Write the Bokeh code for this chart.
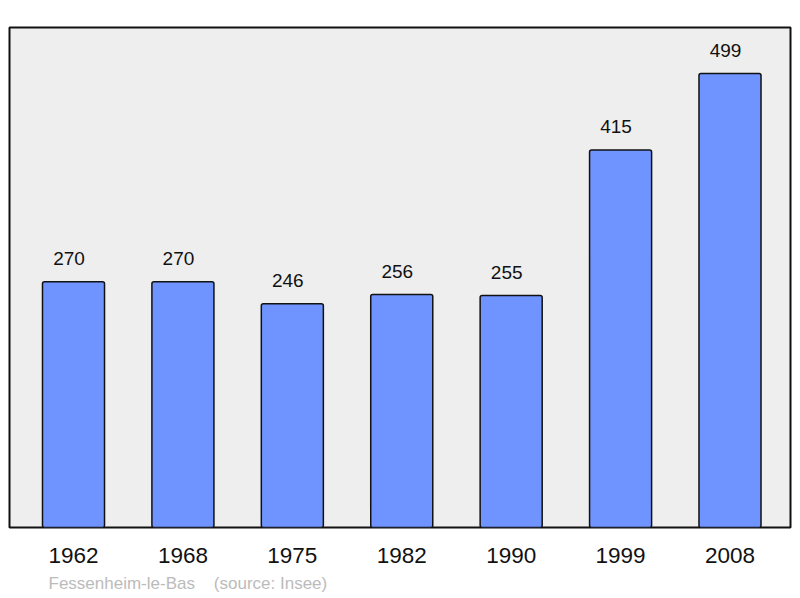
from bokeh.plotting import figure
from bokeh.models import Range1d, LinearAxis, FixedTicker, Title, ColumnDataSource
from bokeh.core.properties import value
from bokeh.embed import file_html
from bokeh.resources import INLINE

years = ["1962", "1968", "1975", "1982", "1990", "1999", "2008"]
population = [270, 270, 246, 256, 255, 415, 499]
footer = "Fessenheim-le-Bas\u00a0\u00a0\u00a0\u00a0(source: Insee)"

pos = list(range(len(years)))
src = ColumnDataSource(dict(x=pos, y=population, lab=[str(v) for v in population]))

p = figure(width=800, height=598, output_backend="svg", toolbar_location=None,
           x_range=Range1d(-0.585, 6.553), y_range=Range1d(0, 549.5),
           x_axis_location=None, y_axis_location=None,
           min_border_left=9, min_border_right=10, min_border_top=27, min_border_bottom=70)
p.grid.visible = False
p.background_fill_color = "#EEEEEE"
p.border_fill_color = "white"
p.outline_line_color = "#111111"
p.outline_line_width = 2

p.vbar(x="x", top="y", bottom=0, width=0.567, source=src,
       fill_color="#7094FF", line_color="#111111", line_width=1.5, border_radius=2)
p.text(x="x", y="y", text="lab", source=src, text_align="center", text_baseline="middle",
       x_offset=-4.5, y_offset=-23, text_font=value("Liberation Sans"), text_font_size="19px",
       text_color="#111111")

ax = LinearAxis(ticker=FixedTicker(ticks=pos),
                major_label_overrides={i: y for i, y in enumerate(years)})
ax.axis_line_color = None
ax.major_tick_line_color = None
ax.minor_tick_line_color = None
ax.major_tick_out = 0
ax.major_label_standoff = 20
ax.major_label_text_font = "Liberation Sans"
ax.major_label_text_font_size = "22.5px"
ax.major_label_text_color = "#111111"
p.add_layout(ax, "below")

t = Title(text=footer, align="left", offset=39, text_font="Liberation Sans",
          text_font_size="17px", text_font_style="normal", text_color="#BBBBBB", standoff=12)
p.add_layout(t, "below")

open("out.html", "w").write(file_html(p, INLINE))
